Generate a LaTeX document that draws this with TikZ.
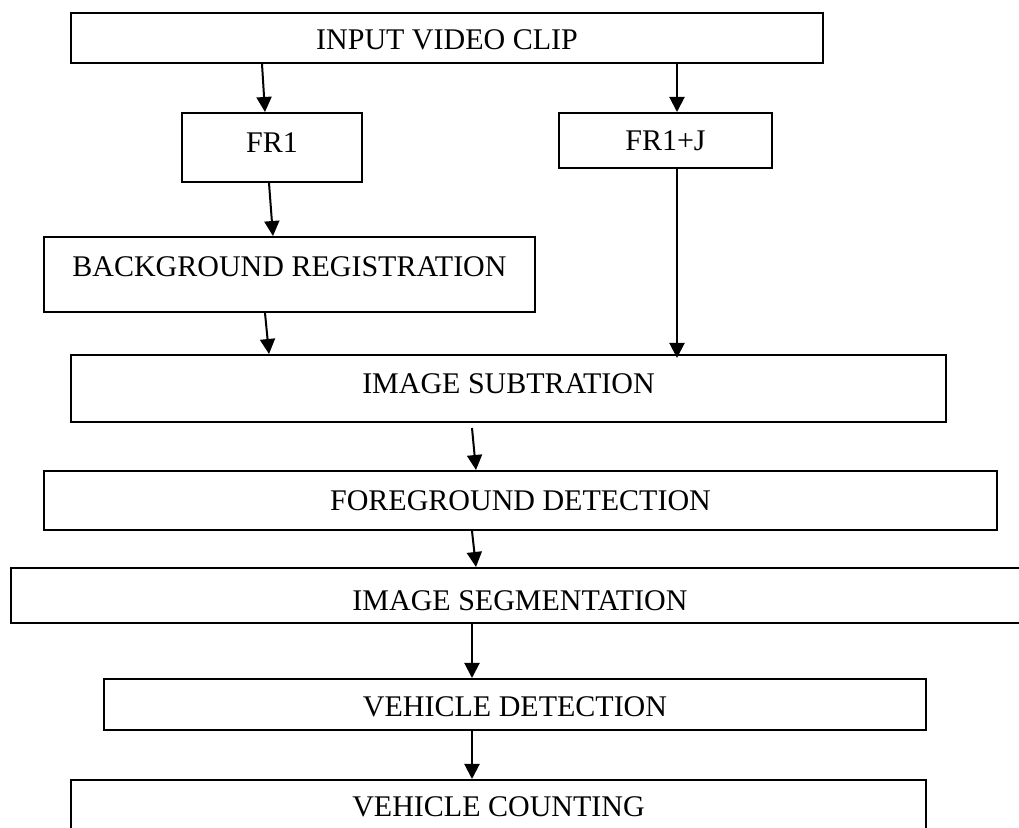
\documentclass[tikz,border=0pt]{standalone}
\usepackage{fontspec}
\setmainfont{Liberation Serif}
\usepackage{tikz}
\usetikzlibrary{arrows.meta,calc}
\tikzset{
  stage/.style={rectangle, draw=black, line width=1pt, align=center, inner sep=0pt, text height=10pt, text depth=0pt, font=\fontsize{15}{18}\selectfont},
  dims/.style 2 args={minimum width=#1*0.5pt, minimum height=#2*0.5pt},
  arrow/.style={-{Triangle[length=7.5pt,width=7.5pt]}, line width=1pt}
}

\begin{document}
\begin{tikzpicture}[x=0.5pt, y=-0.5pt]
  \clip (0,0) rectangle (1019,828);
  \node[stage, dims={752}{50}, text height=12pt] (input) at (447,38) {INPUT VIDEO CLIP};
  \node[stage, dims={180}{69}, text depth=5pt] (fr1) at (272,147.5) {FR1};
  \node[stage, dims={213}{55}] (frj) at (665.5,140.5) {FR1+J};
  \node[stage, dims={491}{75}, text depth=8pt] (bg) at (289.5,274.5) {BACKGROUND REGISTRATION};
  \node[stage, dims={875}{67}, text depth=5pt] (sub) at (508.5,388.5) {IMAGE SUBTRATION};
  \node[stage, dims={953}{59}] (fg) at (520.5,500.5) {FOREGROUND DETECTION};
  \node[stage, dims={1018}{55}, text height=15pt] (seg) at (520,595.5) {IMAGE SEGMENTATION};
  \node[stage, dims={822}{51}, text height=12pt] (vd) at (515,704.5) {VEHICLE DETECTION};
  \node[stage, dims={855}{54}] (vc) at (498.5,807) {VEHICLE COUNTING};

  \draw[arrow] (input.south -| 262,0) -- (fr1.north -| 265,0);
  \draw[arrow] (input.south -| 677,0) -- (frj.north -| 677,0);
  \draw[arrow] (fr1.south -| 269,0) -- (bg.north -| 273,0);
  \draw[arrow] (bg.south -| 265,0) -- (sub.north -| 269,0);
  \draw[arrow] (frj.south -| 677,0) -- ($(sub.north -| 677,0)+(0,4)$);
  \draw[arrow] ($(sub.south -| 472,0)+(0,5)$) -- (fg.north -| 476,0);
  \draw[arrow] (fg.south -| 472,0) -- (seg.north -| 476,0);
  \draw[arrow] (seg.south -| 472,0) -- (vd.north -| 472,0);
  \draw[arrow] (vd.south -| 472,0) -- (vc.north -| 472,0);
\end{tikzpicture}
\end{document}
